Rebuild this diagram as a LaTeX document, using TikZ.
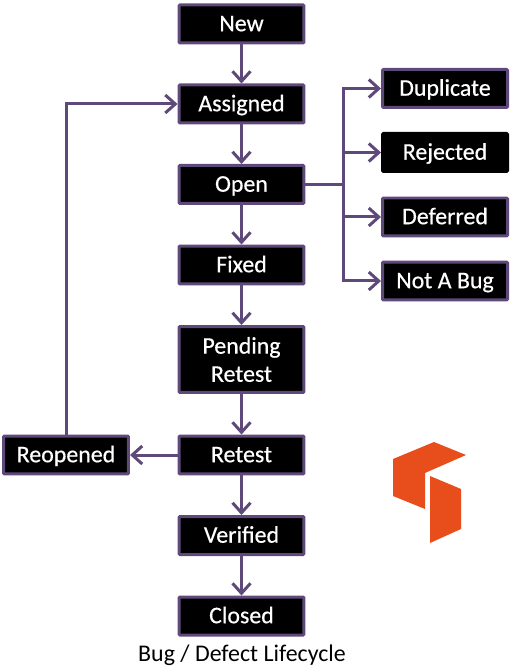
\documentclass[tikz,border=0pt]{standalone}
\usepackage{fontspec}
\setmainfont{Carlito}
\newfontfamily\stagefont[FakeBold=0.5]{Carlito}
\usepackage{xcolor}
\usepackage{tikz}
\usetikzlibrary{arrows.meta}
\definecolor{bugpurple}{HTML}{5F497A}
\definecolor{logoorange}{HTML}{E84E1B}
\tikzset{
	stage/.style={draw=bugpurple, line width=0.06cm, fill=black, text=white, rounded corners=0.5pt, minimum width=2.5cm, minimum height=0.76cm, inner sep=0pt, outer sep=0.03cm, font=\fontsize{13.6}{16}\stagefont, align=center, text height=9.5pt, text depth=1.3pt},
	plainstage/.style={stage, draw=black},
	flow/.style={draw=bugpurple, line width=0.06cm, -{Straight Barb[length=0.2cm, width=0.36cm, line width=0.06cm]}},
	flowline/.style={draw=bugpurple, line width=0.06cm}
}
\begin{document}
\begin{tikzpicture}[x=0.02cm, y=-0.02cm]
	\useasboundingbox (0,0) rectangle (517,671);
	\node [stage] (new) at (241.5,24) {New};
	\node [stage] (assigned) at (241.5,104) {Assigned};
	\node [stage] (open) at (241.5,184.5) {Open};
	\node [stage] (fixed) at (241.5,265) {Fixed};
	\node [stage, minimum height=1.32cm, text height=, text depth=] (pending) at (241.5,359.5) {Pending\\Retest};
	\node [stage] (retest) at (241.5,455) {Retest};
	\node [stage] (verified) at (241.5,535.5) {Verified};
	\node [stage] (closed) at (241.5,616) {Closed};
	\node [stage] (reopened) at (66,455) {Reopened};
	\node [stage] (duplicate) at (445,88.5) {Duplicate};
	\node [plainstage] (rejected) at (445,152.5) {Rejected};
	\node [stage] (deferred) at (445,217) {Deferred};
	\node [stage] (notabug) at (445,281) {Not A Bug};
	\coordinate (branch) at (343,184.5);
	
	\draw [flow] (new) -- (assigned);
	\draw [flow] (assigned) -- (open);
	\draw [flow] (open) -- (fixed);
	\draw [flow] (fixed) -- (pending);
	\draw [flow] (pending) -- (retest);
	\draw [flow] (retest) -- (verified);
	\draw [flow] (verified) -- (closed);
	\draw [flow] (retest) -- (reopened);
	\draw [flow] (reopened.north) |- (assigned.west);
	
	\draw [flowline] (open.east) -- (branch);
	\draw [flow] (branch) |- (duplicate.west);
	\draw [flow] (branch) |- (rejected.west);
	\draw [flow] (branch) |- (deferred.west);
	\draw [flow] (branch) |- (notabug.west);
	
	\fill [logoorange] (434,442) -- (466,455) -- (425,473) -- (425,509) -- (393,496) -- (393,459) -- cycle;
	\fill [logoorange] (430,476) -- (461,489) -- (461,529) -- (430,543) -- cycle;
	
	\node [font=\fontsize{13.6}{16}\selectfont] (caption) at (242,655) {Bug / Defect Lifecycle};
\end{tikzpicture}
\end{document}
